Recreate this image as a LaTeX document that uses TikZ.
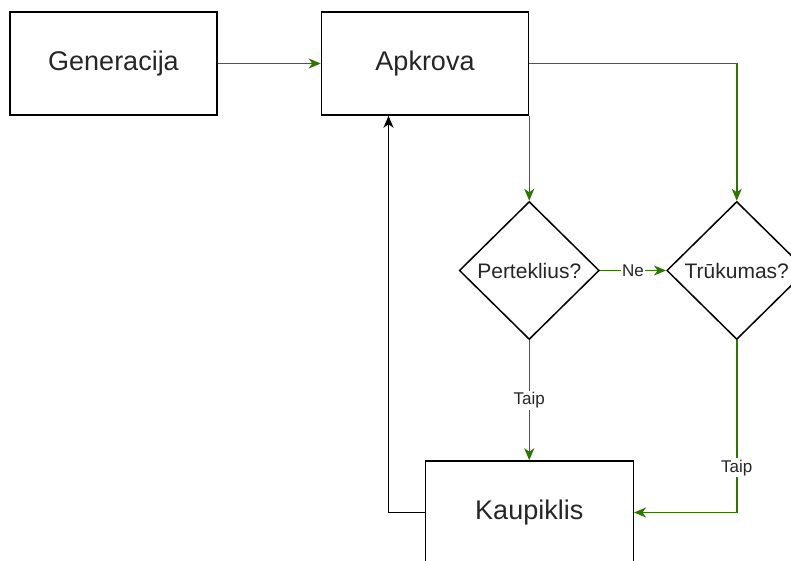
\documentclass[tikz,border=0pt]{standalone}
\usepackage{fontspec}
\setmainfont{Liberation Sans}
\usetikzlibrary{arrows.meta}
\usetikzlibrary{positioning}
\usetikzlibrary{shapes.geometric}
\definecolor{flowgreen}{HTML}{2D7600}

\begin{document}
\begin{tikzpicture}[x=1pt,y=-1pt,>={Stealth[length=12pt,width=10pt,inset=3.5pt]},
                    node distance=100pt,
                    box node/.style={rectangle,draw,line width=1.5pt,minimum width=207pt,minimum height=103pt,
                                     text=black!85,font=\fontsize{27}{30}\selectfont},
                    choice node/.style={diamond,draw,line width=1.5pt,minimum width=140pt,minimum height=138pt,
                                        inner sep=0pt,text=black!85,font=\fontsize{21}{24}\selectfont},
                    flow/.style={->,draw=flowgreen,line width=1.5pt},
                    tag/.style={fill=white,inner sep=1.5pt,text=black!85,font=\fontsize{17}{19}\selectfont}]

  \path[use as bounding box,clip] (0,0) rectangle (791,561);

  \node[box node] (gen) at (113.5,63.5) {Generacija};
  \node[box node] (apk) [right=103pt of gen] {Apkrova};
  \node[choice node] (pert) [below=85pt of apk.south east] {Perteklius?};
  \node[choice node] (truk) [right=66pt of pert] {Trūkumas?};
  \node[box node,minimum width=208pt] (kaup) [below=120pt of pert] {Kaupiklis};
  \coordinate (back) at ([xshift=-36.5pt]apk.south);

  \draw[flow] (gen) -- (apk);
  \draw[flow] (apk.east) -| (truk.north);
  \draw[flow] (apk.south east) -- (pert.north);
  \draw[flow] (pert) -- node[tag] {Ne} (truk);
  \draw[flow] (pert.south) -- node[tag] {Taip} (kaup.north);
  \draw[flow] (truk.south) |- node[tag,pos=0.37] {Taip} (kaup.east);
  \draw[->,line width=1.5pt] (kaup.west) -| (back);
\end{tikzpicture}
\end{document}
